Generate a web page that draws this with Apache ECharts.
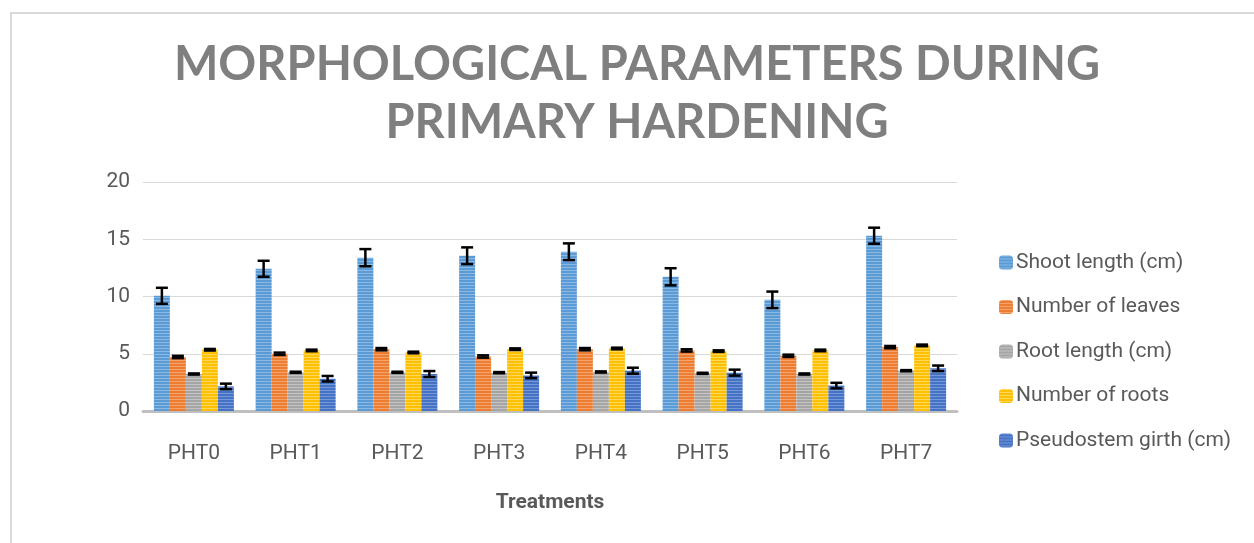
<!DOCTYPE html>
<html>
<head>
<meta charset="utf-8">
<script src="https://cdn.jsdelivr.net/npm/echarts@6/dist/echarts.min.js"></script>
<style>
  html, body { margin: 0; padding: 0; background: #fff; }
  #frame {
    position: absolute; left: 10px; top: 12px; width: 1300px; height: 600px;
    border-left: 2px solid #d9d9d9; border-top: 2px solid #d9d9d9;
  }
  #chart { position: absolute; left: 0; top: 0; width: 1254px; height: 543px; }
</style>
</head>
<body>
<div id="frame"></div>
<div id="chart"></div>
<script>
// 数据
var treatments = ['PHT0', 'PHT1', 'PHT2', 'PHT3', 'PHT4', 'PHT5', 'PHT6', 'PHT7'];
var seriesNames = ['Shoot length (cm)', 'Number of leaves', 'Root length (cm)', 'Number of roots', 'Pseudostem girth (cm)'];
var yTicks = [0, 5, 10, 15, 20];

var shootLength = [10.06, 12.42, 13.39, 13.56, 13.91, 11.72, 9.71, 15.31];
var leaves = [4.72, 5.0, 5.40, 4.76, 5.40, 5.29, 4.82, 5.58];
var rootLength = [3.23, 3.38, 3.38, 3.35, 3.41, 3.29, 3.23, 3.52];
var roots = [5.35, 5.29, 5.11, 5.40, 5.46, 5.23, 5.29, 5.73];
var girth = [2.15, 2.82, 3.23, 3.11, 3.52, 3.35, 2.22, 3.73];

// 误差
var shootErr = [0.7, 0.7, 0.75, 0.73, 0.73, 0.75, 0.72, 0.7];
var leavesErr = [0.1, 0.1, 0.1, 0.1, 0.1, 0.1, 0.1, 0.1];
var rootErr = [0.05, 0.05, 0.05, 0.05, 0.05, 0.05, 0.05, 0.05];
var rootsErr = [0.07, 0.07, 0.07, 0.07, 0.07, 0.07, 0.07, 0.07];
var girthErr = [0.24, 0.24, 0.26, 0.24, 0.26, 0.26, 0.24, 0.24];

var allValues = [shootLength, leaves, rootLength, roots, girth];
var allErrs = [shootErr, leavesErr, rootErr, rootsErr, girthErr];

// 条纹填充
function stripe(base, light) {
  var c = document.createElement('canvas');
  c.width = 4; c.height = 3;
  var ctx = c.getContext('2d');
  ctx.fillStyle = base; ctx.fillRect(0, 0, 4, 3);
  ctx.fillStyle = light; ctx.fillRect(0, 0, 4, 1);
  return { image: c, repeat: 'repeat' };
}
var fills = [
  stripe('#5b9bd5', '#8cb9e3'),
  stripe('#ed7d31', '#f3a36d'),
  stripe('#a5a5a5', '#c4c4c4'),
  stripe('#ffc000', '#ffd75a'),
  stripe('#4472c4', '#7897d6')
];

var BAR_W = 16;
var labelFont = 'Roboto, sans-serif';

var barSeries = seriesNames.map(function (name, i) {
  return {
    name: name,
    type: 'bar',
    barWidth: BAR_W,
    barGap: 0,
    itemStyle: { color: fills[i] },
    data: allValues[i]
  };
});

var errData = [];
allValues.forEach(function (vals, s) {
  vals.forEach(function (v, k) {
    errData.push([k, s, v, allErrs[s][k]]);
  });
});

var errSeries = {
  type: 'custom',
  name: 'err',
  z: 10,
  silent: true,
  encode: { x: 0, y: 2 },
  data: errData,
  renderItem: function (params, api) {
    var k = api.value(0), s = api.value(1), v = api.value(2), e = api.value(3);
    var hi = api.coord([k, v + e]);
    var lo = api.coord([k, v - e]);
    var x = hi[0] + (s - 2) * BAR_W;
    var hw = 6;
    var st = { stroke: '#000', lineWidth: 2.5 };
    return {
      type: 'group',
      children: [
        { type: 'line', shape: { x1: x, y1: hi[1], x2: x, y2: lo[1] }, style: st },
        { type: 'line', shape: { x1: x - hw, y1: hi[1], x2: x + hw, y2: hi[1] }, style: st },
        { type: 'line', shape: { x1: x - hw, y1: lo[1], x2: x + hw, y2: lo[1] }, style: st }
      ]
    };
  }
};

var option = {
  animation: false,
  title: {
    text: 'MORPHOLOGICAL PARAMETERS DURING\nPRIMARY HARDENING',
    left: 632,
    textAlign: 'center',
    top: 31,
    textStyle: {
      fontFamily: 'Lato, sans-serif',
      fontWeight: 'bold',
      fontSize: 47,
      lineHeight: 58,
      color: '#7f7f7f'
    }
  },
  legend: {
    data: seriesNames,
    orient: 'vertical',
    left: 994,
    top: 247,
    itemWidth: 14,
    itemHeight: 14,
    itemGap: 23.5,
    textStyle: { fontFamily: labelFont, fontSize: 21, color: '#595959', padding: [0, 0, 0, -2] }
  },
  grid: { left: 143, right: 297, top: 182, bottom: 132 },
  xAxis: {
    type: 'category',
    data: treatments,
    name: 'Treatments',
    nameLocation: 'middle',
    nameGap: 81,
    nameTextStyle: { fontFamily: labelFont, fontWeight: 'bold', fontSize: 21, color: '#595959' },
    axisLine: { lineStyle: { color: '#bfbfbf', width: 3 } },
    axisTick: { show: false },
    axisLabel: { fontFamily: labelFont, fontSize: 21, color: '#595959', margin: 32 }
  },
  yAxis: {
    type: 'value',
    min: yTicks[0],
    max: yTicks[yTicks.length - 1],
    interval: 5,
    axisLine: { show: false },
    axisTick: { show: false },
    axisLabel: { fontFamily: labelFont, fontSize: 21, color: '#595959', margin: 13 },
    splitLine: { lineStyle: { color: '#d9d9d9', width: 1 } }
  },
  series: barSeries.concat([errSeries])
};

var myChart = echarts.init(document.getElementById('chart'));
myChart.setOption(option);
</script>
</body>
</html>
